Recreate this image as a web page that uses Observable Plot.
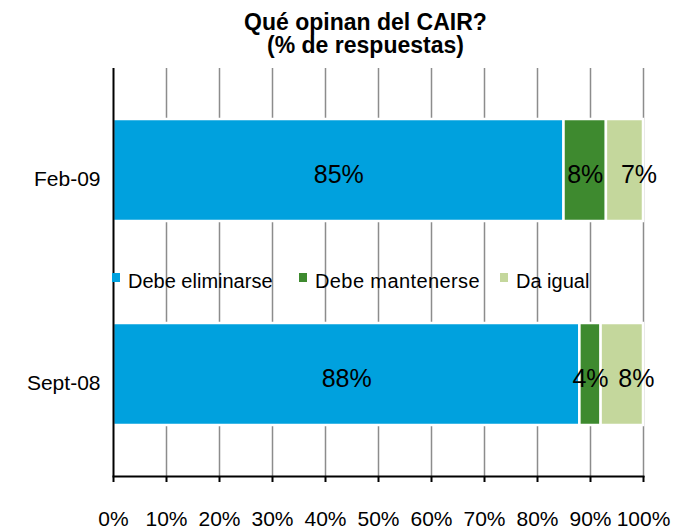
<!DOCTYPE html>
<html>
<head>
<meta charset="utf-8">
<script src="https://cdn.jsdelivr.net/npm/d3@7"></script>
<script src="https://cdn.jsdelivr.net/npm/@observablehq/plot@0.6"></script>
<style>
  body { margin: 0; background: #fff; font-family: "Liberation Sans", Arial, sans-serif; }
  #wrap { position: relative; width: 687px; height: 529px; }
  #title { box-sizing: border-box; height: 54px; padding-top: 11px; padding-left: 44px; text-align: center;
           font-weight: bold; font-size: 23px; line-height: 23px; color: #000; }
  #legend { position: absolute; left: 112px; top: 271px; display: flex; font-size: 20px; line-height: 20px; color: #000; }
  .item { display: flex; align-items: flex-start; }
  .sw { width: 8px; height: 9px; margin-top: 2px; margin-right: 8px; }
</style>
</head>
<body>
<div id="wrap">
  <div id="title">Qué opinan del CAIR?<br>(% de respuestas)</div>
  <div id="chart"></div>
  <div id="legend"></div>
</div>
<script>
const periods = ["Feb-09", "Sept-08"];
const seriesNames = ["Debe eliminarse", "Debe mantenerse", "Da igual"];
const colors = ["#00A1DE", "#3E8A2F", "#C4D79C"];
const feb09 = [85, 8, 7];
const sept08 = [88, 4, 8];
const xTicks = [0, 10, 20, 30, 40, 50, 60, 70, 80, 90, 100];

const rows = [];
[feb09, sept08].forEach((vals, i) => {
  vals.forEach((v, j) => rows.push({period: periods[i], series: seriesNames[j], value: v}));
});

const chart = Plot.plot({
  width: 687,
  height: 475,
  marginLeft: 113,
  marginRight: 44,
  marginTop: 14,
  marginBottom: 53,
  style: {fontFamily: "'Liberation Sans', Arial, sans-serif", color: "#000", background: "#fff"},
  x: {domain: [0, 100], label: null},
  y: {domain: periods, paddingInner: 0.5, paddingOuter: 0.25, label: null},
  color: {domain: seriesNames, range: colors},
  marks: [
    Plot.gridX(xTicks.filter(d => d > 0), {stroke: "#8c8c8c", strokeOpacity: 1, strokeWidth: 1.5}),
    Plot.barX(rows, Plot.stackX({x: "value", y: "period", fill: "series", stroke: "#fff", strokeWidth: 2.5})),
    Plot.text(rows.filter(d => d.series !== "Da igual"), Plot.stackX({x: "value", y: "period", text: d => d.value + "%", fontSize: 25, fill: "#000", dy: 4})),
    Plot.text(rows, Plot.stackX({x: "value", y: "period", text: d => d.series === "Da igual" ? d.value + "%" : null, fontSize: 25, fill: "#000", dy: 4, dx: 14})),
    Plot.ruleX([0], {stroke: "#000", strokeWidth: 2}),
    Plot.frame({anchor: "bottom", stroke: "#000", strokeWidth: 2}),
    Plot.axisX({ticks: xTicks, tickFormat: d => d + "%", tickSize: 6, tickPadding: 29, fontSize: 21, stroke: "#000", strokeWidth: 2, label: null}),
    Plot.axisY({tickSize: 0, tickPadding: 13, fontSize: 21, dy: 9, label: null})
  ]
});
document.getElementById("chart").appendChild(chart);

const legend = document.getElementById("legend");
const itemWidths = [187, 201, 120];
seriesNames.forEach((name, i) => {
  const item = document.createElement("div");
  item.className = "item";
  item.style.width = itemWidths[i] + "px";
  const sw = document.createElement("div");
  sw.className = "sw";
  sw.style.background = colors[i];
  const label = document.createElement("span");
  label.textContent = name;
  if (i === 1) label.style.letterSpacing = "0.4px";
  item.appendChild(sw);
  item.appendChild(label);
  legend.appendChild(item);
});
</script>
</body>
</html>
